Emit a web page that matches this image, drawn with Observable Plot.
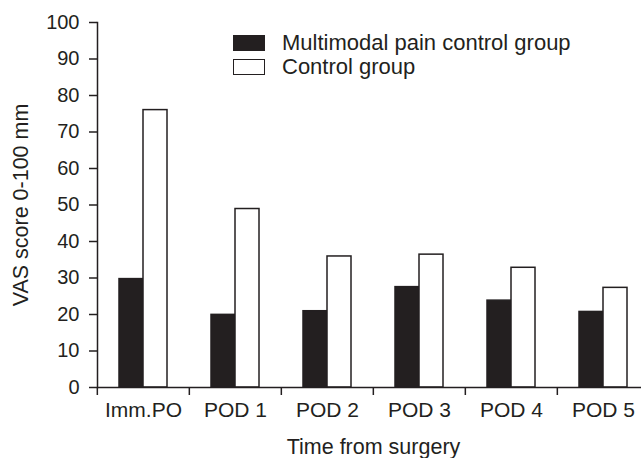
<!DOCTYPE html>
<html>
<head>
<meta charset="utf-8">
<script src="https://cdn.jsdelivr.net/npm/d3@7"></script>
<script src="https://cdn.jsdelivr.net/npm/@observablehq/plot@0.6"></script>
<style>
  html, body { margin: 0; padding: 0; background: #fff; overflow: hidden; }
  #wrap { position: relative; width: 641px; height: 458px; }
  #legend { position: absolute; left: 233px; top: 31px; font-family: "Liberation Sans", Arial, sans-serif; font-size: 22px; color: #231f20; }
  .item { display: flex; align-items: center; height: 24px; }
  .sw { width: 30px; height: 14px; border: 1.5px solid #231f20; margin-right: 17px; box-sizing: content-box; }
</style>
</head>
<body>
<div id="wrap"></div>
<script>
const categories = ["Imm.PO", "POD 1", "POD 2", "POD 3", "POD 4", "POD 5"];
const groups = ["Multimodal pain control group", "Control group"];
const multimodal = [29.7, 19.9, 20.9, 27.5, 23.8, 20.7];
const control = [76.0, 48.9, 35.9, 36.4, 32.8, 27.3];
const yTicks = [0, 10, 20, 30, 40, 50, 60, 70, 80, 90, 100];
const groupColors = ["#231f20", "#ffffff"];

const data = categories.flatMap((c, i) => [
  {time: c, group: groups[0], value: multimodal[i]},
  {time: c, group: groups[1], value: control[i]}
]);

const W = 641, H = 458, mL = 96, mR = -9;
const step = (W - mL - mR) / categories.length;
const ink = "#231f20";
const blank = () => "";

const chart = Plot.plot({
  width: W,
  height: H,
  marginLeft: mL,
  marginRight: mR,
  marginTop: 22,
  marginBottom: 71,
  style: {fontFamily: "'Liberation Sans', Arial, sans-serif", fontSize: "20px", color: ink, background: "white", overflow: "hidden"},
  fx: {domain: categories, padding: 0},
  x: {domain: groups, paddingInner: 0, paddingOuter: 0.88, axis: null},
  y: {domain: [0, 100]},
  color: {domain: groups, range: groupColors},
  marks: [
    Plot.barY(data, {fx: "time", x: "group", y: "value", fill: "group", stroke: ink, strokeWidth: 1.5}),
    Plot.ruleY([0], {stroke: ink, strokeWidth: 1.5}),
    Plot.frame({anchor: "left", facetAnchor: "left", stroke: ink, strokeWidth: 1.5}),
    Plot.axisY({ticks: yTicks, tickSize: 8, tickPadding: 10, strokeWidth: 1.5, fontSize: 20, label: null}),
    Plot.axisY({ticks: [], tickSize: 0, tickFormat: blank, fontSize: 21.5,
      label: "VAS score 0-100 mm", labelArrow: "none", labelAnchor: "center", labelOffset: 85}),
    Plot.axisFx({anchor: "bottom", tickSize: 0, tickPadding: 15, fontSize: 21, label: null}),
    Plot.axisFx({anchor: "bottom", tickSize: 0, tickFormat: blank, fontSize: 21.5,
      label: "Time from surgery", labelArrow: "none", labelAnchor: "center", labelOffset: 66}),
    Plot.axisFx({anchor: "bottom", tickSize: 8, tickFormat: blank, dx: -step / 2, strokeWidth: 1.5, label: null})
  ]
});

const wrap = document.getElementById("wrap");
wrap.appendChild(chart);
const legend = document.createElement("div");
legend.id = "legend";
groups.forEach((g, i) => {
  const item = document.createElement("div");
  item.className = "item";
  const sw = document.createElement("span");
  sw.className = "sw";
  sw.style.background = groupColors[i];
  const t = document.createElement("span");
  t.textContent = g;
  item.appendChild(sw);
  item.appendChild(t);
  legend.appendChild(item);
});
wrap.appendChild(legend);
</script>
</body>
</html>
